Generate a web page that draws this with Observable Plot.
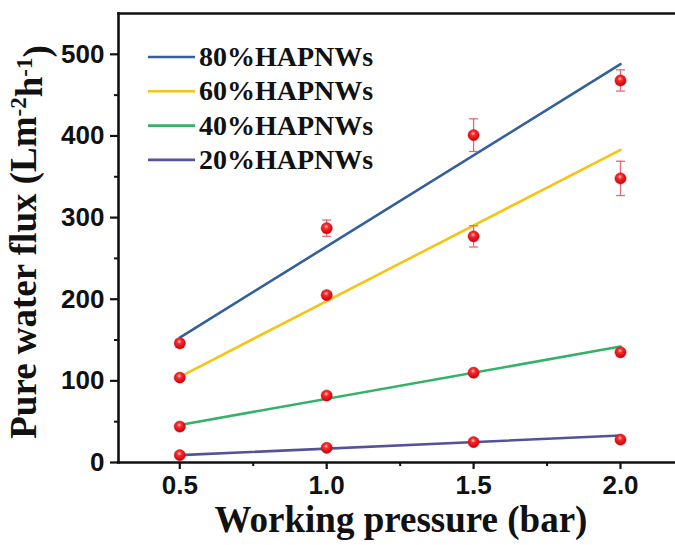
<!DOCTYPE html>
<html>
<head>
<meta charset="utf-8">
<script src="https://cdn.jsdelivr.net/npm/d3@7"></script>
<script src="https://cdn.jsdelivr.net/npm/@observablehq/plot@0.6"></script>
<style>
  html, body { margin: 0; padding: 0; background: #fff; }
  #chart { position: relative; width: 675px; height: 545px; }
</style>
</head>
<body>
<div id="chart"></div>
<script>
// ---- data ----
const pressures = [0.5, 1.0, 1.5, 2.0];
const seriesNames = ["80%HAPNWs", "60%HAPNWs", "40%HAPNWs", "20%HAPNWs"];
const seriesColors = ["#33609c", "#f5c414", "#34b26a", "#54539a"];
const flux80 = [146, 287, 401, 468];
const flux60 = [104, 205, 277, 348];
const flux40 = [44, 82, 110, 135];
const flux20 = [9, 18, 25, 28];
const err80 = [5, 10, 20, 13];
const err60 = [3, 4, 13, 21];
const err40 = [3, 3, 3, 3];
const err20 = [2, 2, 2, 2];
// fitted straight lines (values at the line ends)
const fitX = [0.5, 2.0];
const fit80 = [153, 488];
const fit60 = [105, 383];
const fit40 = [46, 142];
const fit20 = [9, 33];
// ticks
const xTicks = [0.5, 1.0, 1.5, 2.0];
const xMinorTicks = [0.75, 1.25, 1.75];
const yTicks = [0, 100, 200, 300, 400, 500];
const yMinorTicks = [50, 150, 250, 350, 450];
const xDomain = [0.2914, 2.1872];
const yDomain = [0, 550];

// ---- build tables ----
const fluxes = [flux80, flux60, flux40, flux20];
const errs = [err80, err60, err40, err20];
const fits = [fit80, fit60, fit40, fit20];
const points = [];
seriesNames.forEach((s, i) => pressures.forEach((p, j) =>
  points.push({series: s, x: p, y: fluxes[i][j], e: errs[i][j]})));
const fitRows = [];
seriesNames.forEach((s, i) => fitX.forEach((p, j) =>
  fitRows.push({series: s, x: p, y: fits[i][j]})));

const capSymbol = {
  draw(ctx) { ctx.moveTo(-4.5, 0); ctx.lineTo(4.5, 0); }
};

const sans = "'Liberation Sans', Arial, sans-serif";
const serif = "'Liberation Serif', 'Times New Roman', serif";

const plot = Plot.plot({
  width: 675,
  height: 545,
  marginLeft: 118,
  marginRight: 0,
  marginTop: 13,
  marginBottom: 83,
  style: {background: "white", overflow: "visible"},
  x: {domain: xDomain},
  y: {domain: yDomain},
  color: {domain: seriesNames, range: seriesColors},
  marks: [
    Plot.frame({anchor: "left", stroke: "#111", strokeWidth: 2.6}),
    Plot.frame({anchor: "bottom", stroke: "#111", strokeWidth: 2.6}),
    Plot.frame({anchor: "top", stroke: "#111", strokeWidth: 2.6}),
    Plot.axisX({ticks: xTicks, tickSize: 7, tickPadding: 6, tickFormat: d => d.toFixed(1),
      label: null, fontSize: 26, fontWeight: "bold", fontFamily: sans, stroke: "#111", strokeWidth: 2.2, color: "#111"}),
    Plot.axisX({ticks: xMinorTicks, tickSize: 4, text: null, label: null, strokeWidth: 2, stroke: "#111"}),
    Plot.axisY({ticks: yTicks, tickSize: 8, tickPadding: 6, label: null,
      fontSize: 26, fontWeight: "bold", fontFamily: sans, strokeWidth: 2.2, stroke: "#111", color: "#111"}),
    Plot.axisY({ticks: yMinorTicks, tickSize: 4, text: null, label: null, strokeWidth: 2, stroke: "#111"}),
    Plot.line(fitRows, {x: "x", y: "y", z: "series", stroke: "series", strokeWidth: 2.6}),
    Plot.ruleX(points, {x: "x", y1: d => d.y - d.e, y2: d => d.y + d.e, stroke: "#e36a74", strokeWidth: 1.3}),
    Plot.dot(points, {x: "x", y: d => d.y + d.e, symbol: capSymbol, r: 4, fill: "none", stroke: "#e36a74", strokeWidth: 1.3}),
    Plot.dot(points, {x: "x", y: d => d.y - d.e, symbol: capSymbol, r: 4, fill: "none", stroke: "#e36a74", strokeWidth: 1.3}),
    Plot.dot(points, {x: "x", y: "y", r: 5.6, fill: "url(#sphere)", stroke: "#c8101a", strokeWidth: 0.5})
  ]
});

document.getElementById("chart").appendChild(plot);

const svg = d3.select(plot);
// gradient for the glossy red spheres
const defs = svg.insert("defs", ":first-child");
const g = defs.append("radialGradient").attr("id", "sphere")
  .attr("cx", "45%").attr("cy", "35%").attr("r", "65%");
g.append("stop").attr("offset", "0%").attr("stop-color", "#ffd0d0");
g.append("stop").attr("offset", "30%").attr("stop-color", "#ff2a2a");
g.append("stop").attr("offset", "100%").attr("stop-color", "#c40008");

// x-axis title
svg.append("text")
  .attr("x", 401).attr("y", 532)
  .attr("text-anchor", "middle")
  .style("font-family", serif).style("font-weight", "bold").style("font-size", "37px")
  .attr("fill", "#111")
  .text("Working pressure (bar)");

// y-axis title with superscripts
const yt = svg.append("text")
  .attr("transform", "translate(36,242) rotate(-90)")
  .attr("text-anchor", "middle")
  .style("font-family", serif).style("font-weight", "bold").style("font-size", "37px")
  .attr("fill", "#111");
yt.append("tspan").text("Pure water flux (Lm");
yt.append("tspan").attr("dy", "-0.45em").style("font-size", "23px").text("-2");
yt.append("tspan").attr("dy", "0.45em").text("h");
yt.append("tspan").attr("dy", "-0.45em").style("font-size", "23px").text("-1");
yt.append("tspan").attr("dy", "0.45em").text(")");

// legend
const leg = svg.append("g").attr("text-anchor", "start");
seriesNames.forEach((s, i) => {
  const yy = 57 + i * 34.3;
  leg.append("line").attr("x1", 148).attr("x2", 195).attr("y1", yy).attr("y2", yy)
    .attr("stroke", seriesColors[i]).attr("stroke-width", 2.6);
  leg.append("text").attr("x", 199).attr("y", yy + 9)
    .attr("text-anchor", "start")
    .style("font-family", serif).style("font-weight", "bold").style("font-size", "28px")
    .attr("fill", "#111").text(s);
});
</script>
</body>
</html>
